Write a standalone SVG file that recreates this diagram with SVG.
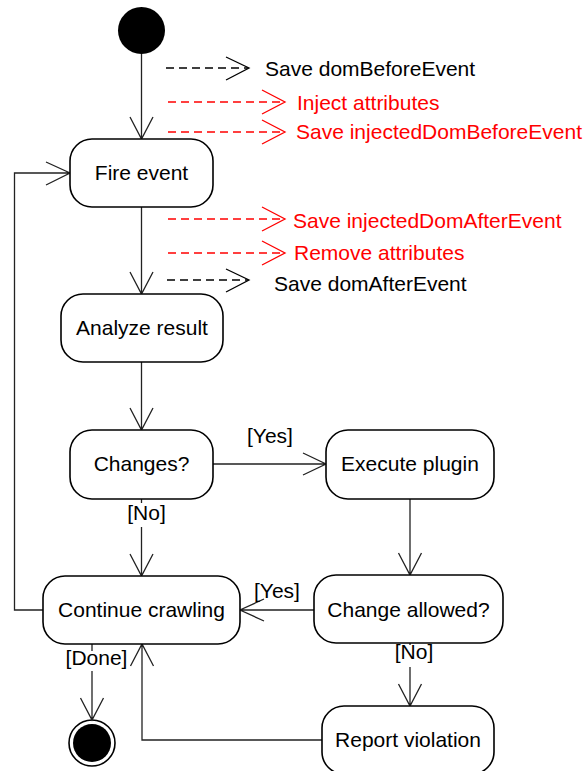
<svg xmlns="http://www.w3.org/2000/svg" width="586" height="771" viewBox="0 0 586 771">
  <style>
    .box { fill: #fff; stroke: #000; stroke-width: 1.6; }
    .lbl { font-family: "Liberation Sans", Arial, sans-serif; font-size: 21px; fill: #000; }
    .mid { text-anchor: middle; }
    .red { fill: #ff0000; }
    .edge { fill: none; stroke: #222; stroke-width: 1.3; }
    .dash { fill: none; stroke-width: 1.3; stroke-dasharray: 8 5; }
    .head { fill: none; stroke-width: 1.3; }
    .bg { fill: #fff; }
  </style>

  <!-- Start / end states -->
  <g id="start">
    <circle cx="141.5" cy="30.5" r="23.5" fill="#000"/>
  </g>
  <g id="end">
    <circle cx="92" cy="743" r="23" fill="#fff" stroke="#000" stroke-width="1.6"/>
    <circle cx="92" cy="743" r="19" fill="#000"/>
  </g>

  <!-- Connectors -->
  <g id="connectors">
    <!-- start -> Fire event -->
    <path class="edge" d="M141.5 54 V139 M130 117 L141.5 139 L153 117"/>
    <!-- Fire event -> Analyze result -->
    <path class="edge" d="M141.5 207 V294 M130 272 L141.5 294 L153 272"/>
    <!-- Analyze result -> Changes? -->
    <path class="edge" d="M141.5 362 V430 M130 408 L141.5 430 L153 408"/>
    <!-- Changes? -> Execute plugin -->
    <path class="edge" d="M213 464 H326 M303 453 L326 464 L303 475"/>
    <!-- Changes? -> Continue crawling -->
    <path class="edge" d="M141.5 499 V576 M130 554 L141.5 576 L153 554"/>
    <!-- Execute plugin -> Change allowed? -->
    <path class="edge" d="M410 499 V575 M398.5 553 L410 575 L421.5 553"/>
    <!-- Change allowed? -> Continue crawling -->
    <path class="edge" d="M314 610 H240 M264 599 L240 610 L264 621"/>
    <!-- Change allowed? -> Report violation -->
    <path class="edge" d="M410 643 V706 M398.5 684 L410 706 L421.5 684"/>
    <!-- Report violation -> Continue crawling -->
    <path class="edge" d="M322 740 H142 V644 M130.5 666 L142 644 L153.5 666"/>
    <!-- Continue crawling -> end -->
    <path class="edge" d="M92 644 V720 M80.5 698 L92 720 L103.5 698"/>
    <!-- Loop back: Continue crawling -> Fire event -->
    <path class="edge" d="M43 610 H14.5 V173 H70 M46 162 L70 173 L46 185"/>

    <!-- Guard labels -->
    <text class="lbl mid" x="270" y="443">[Yes]</text>
    <rect class="bg" x="125" y="503" width="44" height="24"/>
    <text class="lbl mid" x="146.5" y="520">[No]</text>
    <text class="lbl mid" x="277" y="598">[Yes]</text>
    <rect class="bg" x="393" y="645" width="43" height="22"/>
    <text class="lbl mid" x="414" y="659">[No]</text>
    <rect class="bg" x="64" y="651" width="65" height="20"/>
    <text class="lbl mid" x="96.5" y="665">[Done]</text>

    <!-- Side actions -->
    <path class="dash" stroke="#000" d="M166 68 H248"/>
    <path class="head" stroke="#000" d="M226 57 L249 68 L226 80"/>
    <path class="dash" stroke="#ff0000" d="M168 102 H284"/>
    <path class="head" stroke="#ff0000" d="M262 90 L285 102 L262 114"/>
    <path class="dash" stroke="#ff0000" d="M168 132 H284"/>
    <path class="head" stroke="#ff0000" d="M262 120 L285 132 L262 144"/>
    <path class="dash" stroke="#ff0000" d="M168 219 H284"/>
    <path class="head" stroke="#ff0000" d="M262 207 L285 219 L262 231"/>
    <path class="dash" stroke="#ff0000" d="M168 253 H284"/>
    <path class="head" stroke="#ff0000" d="M262 241 L285 253 L262 265"/>
    <path class="dash" stroke="#000" d="M167 280 H248"/>
    <path class="head" stroke="#000" d="M226 269 L249 280 L226 292"/>

    <text class="lbl" x="265" y="76">Save domBeforeEvent</text>
    <text class="lbl red" x="297" y="110">Inject attributes</text>
    <text class="lbl red" x="296" y="139">Save injectedDomBeforeEvent</text>
    <text class="lbl red" x="293" y="228">Save injectedDomAfterEvent</text>
    <text class="lbl red" x="294" y="260">Remove attributes</text>
    <text class="lbl" x="274" y="291">Save domAfterEvent</text>
  </g>

  <!-- Activities -->
  <g id="fire-event">
    <rect class="box" x="70" y="139" width="143" height="68" rx="22"/>
    <text class="lbl mid" x="141.5" y="180">Fire event</text>
  </g>
  <g id="analyze-result">
    <rect class="box" x="61" y="294" width="162" height="68" rx="22"/>
    <text class="lbl mid" x="142" y="335">Analyze result</text>
  </g>
  <g id="changes">
    <rect class="box" x="70" y="430" width="143" height="69" rx="22"/>
    <text class="lbl mid" x="141.5" y="471">Changes?</text>
  </g>
  <g id="execute-plugin">
    <rect class="box" x="326" y="430" width="168" height="69" rx="22"/>
    <text class="lbl mid" x="410" y="471">Execute plugin</text>
  </g>
  <g id="continue-crawling">
    <rect class="box" x="43" y="576" width="197" height="68" rx="22"/>
    <text class="lbl mid" x="141.5" y="617">Continue crawling</text>
  </g>
  <g id="change-allowed">
    <rect class="box" x="314" y="575" width="189" height="68" rx="22"/>
    <text class="lbl mid" x="408.5" y="617">Change allowed?</text>
  </g>
  <g id="report-violation">
    <rect class="box" x="322" y="706" width="172" height="68" rx="22"/>
    <text class="lbl mid" x="408" y="747">Report violation</text>
  </g>
</svg>
